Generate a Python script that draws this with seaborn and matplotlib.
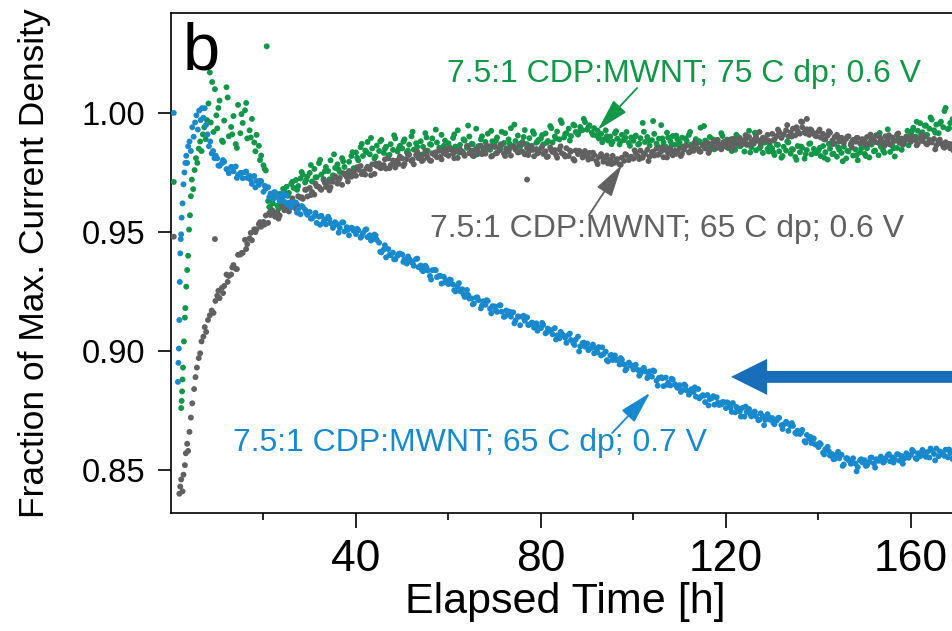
import numpy as np
import pandas as pd
import matplotlib
matplotlib.use("Agg")
import matplotlib.pyplot as plt
import seaborn as sns

# ---------------- data ----------------
series_names = ["7.5:1 CDP:MWNT; 75 C dp; 0.6 V",
                "7.5:1 CDP:MWNT; 65 C dp; 0.6 V",
                "7.5:1 CDP:MWNT; 65 C dp; 0.7 V"]

# early, irregularly sampled part of each run (hours, fraction) plus isolated outliers
green_early_t = [0.6, 2.2, 2.3, 2.4, 2.5, 2.6, 2.8, 3.0, 3.1, 3.3, 3.5, 3.7, 3.9, 4.1, 4.3, 4.5, 4.8, 5.1,
                 5.4, 5.7, 6.0, 6.3, 6.6, 6.9, 7.2, 7.5, 7.8, 8.1, 8.4, 8.6, 8.9, 9.2, 9.5, 9.8, 20.7]
green_early_y = [0.971, 0.876, 0.879, 0.883, 0.888, 0.893, 0.904, 0.914, 0.918, 0.927, 0.934, 0.940, 0.951,
                 0.957, 0.965, 0.972, 0.968, 0.976, 0.981, 0.979, 0.985, 0.988, 0.984, 0.991, 0.994, 0.989,
                 0.997, 1.004, 1.017, 0.996, 1.013, 0.992, 1.010, 0.999, 1.028]
gray_early_t = [0.6, 1.8, 2.0, 2.2, 2.5, 2.7, 3.0, 3.2, 3.5, 3.7, 4.0, 4.3, 4.6, 5.0, 5.3, 5.6, 6.0, 6.3,
                6.6, 7.0, 7.3, 7.6, 8.0, 8.4, 8.8, 9.2, 9.5, 9.6, 77.0, 136.5, 137.5]
gray_early_y = [0.948, 0.840, 0.843, 0.846, 0.841, 0.848, 0.852, 0.857, 0.861, 0.858, 0.866, 0.872, 0.878,
                0.884, 0.889, 0.893, 0.897, 0.899, 0.904, 0.906, 0.910, 0.908, 0.913, 0.915, 0.917, 0.916,
                0.947, 0.921, 0.972, 0.9962, 0.9975]
blue_early_t = [0.6, 1.5, 1.6, 1.7, 1.8, 1.9, 2.0, 2.1, 2.2, 2.3, 2.5, 2.7, 2.9, 3.1, 3.3, 3.5, 3.7, 4.0,
                4.3, 4.6, 4.9, 5.2, 5.5, 5.8, 6.1, 6.4, 6.7, 7.0, 7.3, 7.6, 7.9, 8.2, 8.5, 8.8, 9.1, 9.4, 9.7]
blue_early_y = [1.000, 0.887, 0.895, 0.901, 0.913, 0.929, 0.941, 0.947, 0.949, 0.956, 0.962, 0.970, 0.975,
                0.979, 0.982, 0.979, 0.986, 0.988, 0.984, 0.994, 0.990, 0.996, 0.999, 0.993, 1.001, 0.997,
                1.002, 0.998, 1.002, 0.995, 0.991, 0.986, 0.988, 0.983, 0.984, 0.981, 0.982]

# regular logging A: every 0.5 h starting at 10 h
logA_start_h = 10.0
logA_step_h = 0.5
# regular logging B: every 1 h starting at 10.25 h
logB_start_h = 10.25
logB_step_h = 1.0

green_y = [
    0.9935, 1.0052, 0.9884, 0.9968, 1.0108, 0.9902, 0.9941, 0.9987, 0.9869, 1.0034, 0.9915, 0.9958, 1.0011, 0.9893, 0.9927, 0.9975, 0.9876, 0.9908, 0.9862, 0.9821,
    0.9780, 0.9758, 0.9630, 0.9600, 0.9620, 0.9655, 0.9610, 0.9660, 0.9640, 0.9672, 0.9690, 0.9664, 0.9702, 0.9685, 0.9718, 0.9693, 0.9725, 0.9741, 0.9708, 0.9733,
    0.9748, 0.9712, 0.9765, 0.9730, 0.9789, 0.9741, 0.9722, 0.9773, 0.9756, 0.9801, 0.9738, 0.9769, 0.9784, 0.9752, 0.9810, 0.9773, 0.9746, 0.9795, 0.9819, 0.9768,
    0.9834, 0.9801, 0.9856, 0.9819, 0.9842, 0.9878, 0.9826, 0.9851, 0.9809, 0.9863, 0.9840, 0.9887, 0.9832, 0.9858, 0.9821, 0.9869, 0.9845, 0.9893, 0.9838, 0.9862,
    0.9851, 0.9889, 0.9835, 0.9867, 0.9902, 0.9846, 0.9873, 0.9827, 0.9881, 0.9858, 0.9915, 0.9842, 0.9869, 0.9893, 0.9831, 0.9876, 0.9854, 0.9908, 0.9862, 0.9839,
    0.9872, 0.9848, 0.9895, 0.9859, 0.9927, 0.9866, 0.9838, 0.9884, 0.9853, 0.9901, 0.9870, 0.9842, 0.9934, 0.9861, 0.9889, 0.9851, 0.9878, 0.9913, 0.9845, 0.9881,
    0.9866, 0.9897, 0.9852, 0.9921, 0.9874, 0.9843, 0.9889, 0.9936, 0.9861, 0.9882, 0.9905, 0.9857, 0.9878, 0.9928, 0.9869, 0.9894, 0.9848, 0.9912, 0.9875, 0.9887,
    0.9893, 0.9868, 0.9914, 0.9882, 0.9945, 0.9876, 0.9901, 0.9922, 0.9889, 0.9958, 0.9897, 0.9915, 0.9934, 0.9903, 0.9951, 0.9920, 0.9909, 0.9941, 0.9928, 0.9962,
    0.9930, 0.9948, 0.9917, 0.9936, 0.9905, 0.9893, 0.9912, 0.9889, 0.9927, 0.9884, 0.9901, 0.9879, 0.9915, 0.9892, 0.9868, 0.9908, 0.9886, 0.9920, 0.9874, 0.9897,
    0.9883, 0.9905, 0.9867, 0.9894, 0.9958, 0.9878, 0.9899, 0.9863, 0.9886, 0.9912, 0.9871, 0.9892, 0.9949, 0.9876, 0.9858, 0.9897, 0.9881, 0.9903, 0.9866, 0.9889,
    0.9874, 0.9896, 0.9859, 0.9883, 0.9908, 0.9867, 0.9851, 0.9890, 0.9875, 0.9938, 0.9862, 0.9884, 0.9853, 0.9899, 0.9870, 0.9847, 0.9886, 0.9863, 0.9915, 0.9877,
    0.9868, 0.9852, 0.9889, 0.9873, 0.9845, 0.9901, 0.9860, 0.9879, 0.9838, 0.9866, 0.9925, 0.9855, 0.9871, 0.9843, 0.9884, 0.9859, 0.9832, 0.9876, 0.9849, 0.9863,
    0.9851, 0.9823, 0.9867, 0.9839, 0.9812, 0.9858, 0.9842, 0.9876, 0.9829, 0.9846, 0.9815, 0.9861, 0.9835, 0.9853, 0.9808, 0.9844, 0.9870, 0.9826, 0.9849, 0.9831,
    0.9842, 0.9819, 0.9861, 0.9835, 0.9804, 0.9850, 0.9827, 0.9873, 0.9816, 0.9845, 0.9832, 0.9858, 0.9809, 0.9838, 0.9866, 0.9821, 0.9847, 0.9801, 0.9834, 0.9855,
    0.9828, 0.9851, 0.9813, 0.9867, 0.9839, 0.9905, 0.9822, 0.9858, 0.9842, 0.9874, 0.9931, 0.9836, 0.9862, 0.9817, 0.9853, 0.9889, 0.9845, 0.9871, 0.9898, 0.9864,
    0.9912, 0.9938, 0.9901, 0.9925, 0.9957, 0.9919, 0.9946, 0.9908, 0.9934, 0.9972, 0.9927, 0.9951, 0.9915, 0.9963, 0.9940, 1.0021, 0.9932, 0.9958, 0.9974, 0.9945,
]
green_y2 = [
    1.0021, 0.9878, 1.0065, 0.9910, 0.9853, 0.9995, 1.0042, 0.9897, 0.9839, 0.9802,
    0.9765, 0.9605, 0.9642, 0.9598, 0.9681, 0.9652, 0.9711, 0.9677, 0.9752, 0.9719,
    0.9781, 0.9729, 0.9803, 0.9755, 0.9721, 0.9826, 0.9762, 0.9797, 0.9743, 0.9835,
    0.9812, 0.9870, 0.9836, 0.9895, 0.9817, 0.9881, 0.9849, 0.9824, 0.9906, 0.9851,
    0.9879, 0.9842, 0.9921, 0.9858, 0.9825, 0.9897, 0.9866, 0.9930, 0.9848, 0.9884,
    0.9856, 0.9910, 0.9833, 0.9889, 0.9947, 0.9869, 0.9826, 0.9902, 0.9858, 0.9925,
    0.9884, 0.9849, 0.9915, 0.9870, 0.9951, 0.9862, 0.9899, 0.9838, 0.9923, 0.9880,
    0.9907, 0.9875, 0.9936, 0.9893, 0.9969, 0.9912, 0.9884, 0.9947, 0.9921, 0.9975,
    0.9941, 0.9908, 0.9926, 0.9877, 0.9902, 0.9869, 0.9923, 0.9881, 0.9896, 0.9862,
    0.9899, 0.9871, 0.9921, 0.9884, 0.9966, 0.9859, 0.9893, 0.9917, 0.9868, 0.9905,
    0.9859, 0.9893, 0.9920, 0.9866, 0.9881, 0.9945, 0.9852, 0.9889, 0.9871, 0.9903,
    0.9881, 0.9840, 0.9908, 0.9862, 0.9889, 0.9834, 0.9917, 0.9851, 0.9876, 0.9838,
    0.9835, 0.9866, 0.9819, 0.9880, 0.9848, 0.9803, 0.9859, 0.9827, 0.9872, 0.9840,
    0.9853, 0.9812, 0.9870, 0.9829, 0.9856, 0.9797, 0.9841, 0.9879, 0.9823, 0.9851,
    0.9819, 0.9878, 0.9842, 0.9916, 0.9833, 0.9869, 0.9851, 0.9894, 0.9881, 0.9925,
    0.9925, 0.9963, 0.9904, 0.9948, 0.9981, 0.9917, 0.9956, 1.0008, 0.9936, 0.9969,
]

gray_y = [
    0.9232, 0.9222, 0.9265, 0.9273, 0.9321, 0.9315, 0.9321, 0.9361, 0.9345, 0.9404, 0.9405, 0.9412, 0.9467, 0.9449, 0.9473, 0.9465, 0.9511, 0.9511, 0.9533, 0.9522,
    0.9542, 0.9569, 0.9538, 0.9571, 0.9589, 0.9564, 0.9582, 0.9569, 0.9614, 0.9591, 0.9609, 0.9586, 0.9623, 0.9616, 0.9598, 0.9650, 0.9644, 0.9639, 0.9677, 0.9649,
    0.9685, 0.9668, 0.9657, 0.9692, 0.9689, 0.9677, 0.9719, 0.9689, 0.9709, 0.9688, 0.9711, 0.9734, 0.9703, 0.9727, 0.9698, 0.9742, 0.9731, 0.9756, 0.9732, 0.9752,
    0.9736, 0.9761, 0.9777, 0.9753, 0.9741, 0.9774, 0.9763, 0.9784, 0.9744, 0.9777, 0.9788, 0.9769, 0.9781, 0.9766, 0.9809, 0.9781, 0.9800, 0.9771, 0.9801, 0.9817,
    0.9809, 0.9786, 0.9806, 0.9825, 0.9798, 0.9784, 0.9823, 0.9810, 0.9819, 0.9802, 0.9841, 0.9812, 0.9800, 0.9830, 0.9823, 0.9814, 0.9841, 0.9805, 0.9832, 0.9826,
    0.9820, 0.9849, 0.9829, 0.9839, 0.9811, 0.9847, 0.9836, 0.9820, 0.9861, 0.9831, 0.9842, 0.9819, 0.9850, 0.9832, 0.9862, 0.9839, 0.9829, 0.9849, 0.9860, 0.9820,
    0.9857, 0.9832, 0.9843, 0.9866, 0.9829, 0.9851, 0.9838, 0.9821, 0.9859, 0.9846, 0.9834, 0.9870, 0.9837, 0.9826, 0.9853, 0.9841, 0.9862, 0.9818, 0.9848, 0.9835,
    0.9851, 0.9828, 0.9839, 0.9817, 0.9855, 0.9836, 0.9844, 0.9812, 0.9847, 0.9831, 0.9825, 0.9852, 0.9819, 0.9838, 0.9806, 0.9842, 0.9827, 0.9835, 0.9813, 0.9840,
    0.9818, 0.9832, 0.9809, 0.9824, 0.9798, 0.9815, 0.9827, 0.9795, 0.9810, 0.9788, 0.9803, 0.9820, 0.9791, 0.9806, 0.9784, 0.9812, 0.9799, 0.9823, 0.9802, 0.9816,
    0.9808, 0.9831, 0.9819, 0.9842, 0.9812, 0.9827, 0.9845, 0.9816, 0.9833, 0.9821, 0.9850, 0.9826, 0.9838, 0.9814, 0.9844, 0.9830, 0.9853, 0.9822, 0.9841, 0.9835,
    0.9852, 0.9828, 0.9846, 0.9863, 0.9834, 0.9855, 0.9841, 0.9870, 0.9849, 0.9837, 0.9866, 0.9851, 0.9875, 0.9843, 0.9862, 0.9880, 0.9853, 0.9868, 0.9847, 0.9877,
    0.9858, 0.9884, 0.9869, 0.9891, 0.9862, 0.9877, 0.9895, 0.9871, 0.9886, 0.9868, 0.9899, 0.9880, 0.9874, 0.9903, 0.9885, 0.9871, 0.9896, 0.9889, 0.9908, 0.9879,
    0.9912, 0.9889, 0.9903, 0.9921, 0.9895, 0.9910, 0.9927, 0.9901, 0.9918, 0.9934, 0.9906, 0.9925, 0.9913, 0.9940, 0.9919, 0.9931, 0.9908, 0.9927, 0.9915, 0.9902,
    0.9921, 0.9897, 0.9912, 0.9889, 0.9905, 0.9917, 0.9884, 0.9899, 0.9908, 0.9880, 0.9896, 0.9874, 0.9891, 0.9902, 0.9869, 0.9887, 0.9879, 0.9895, 0.9872, 0.9890,
    0.9881, 0.9899, 0.9870, 0.9893, 0.9885, 0.9906, 0.9874, 0.9890, 0.9878, 0.9902, 0.9886, 0.9868, 0.9897, 0.9883, 0.9909, 0.9875, 0.9892, 0.9880, 0.9901, 0.9888,
    0.9879, 0.9898, 0.9886, 0.9871, 0.9894, 0.9882, 0.9900, 0.9868, 0.9887, 0.9876, 0.9891, 0.9864, 0.9880, 0.9872, 0.9858, 0.9877, 0.9862, 0.9851, 0.9869, 0.9855,
]
gray_y2 = [
    0.9253, 0.9243, 0.9290, 0.9351, 0.9344, 0.9411, 0.9428, 0.9496, 0.9499, 0.9541,
    0.9531, 0.9580, 0.9576, 0.9556, 0.9604, 0.9594, 0.9641, 0.9615, 0.9646, 0.9678,
    0.9655, 0.9703, 0.9682, 0.9707, 0.9675, 0.9727, 0.9718, 0.9747, 0.9712, 0.9752,
    0.9772, 0.9743, 0.9766, 0.9738, 0.9787, 0.9769, 0.9805, 0.9768, 0.9793, 0.9786,
    0.9777, 0.9823, 0.9804, 0.9837, 0.9798, 0.9824, 0.9799, 0.9835, 0.9816, 0.9850,
    0.9847, 0.9810, 0.9842, 0.9829, 0.9860, 0.9820, 0.9841, 0.9827, 0.9863, 0.9817,
    0.9830, 0.9868, 0.9819, 0.9851, 0.9858, 0.9835, 0.9870, 0.9823, 0.9845, 0.9830,
    0.9859, 0.9815, 0.9844, 0.9825, 0.9860, 0.9817, 0.9842, 0.9800, 0.9841, 0.9822,
    0.9804, 0.9833, 0.9785, 0.9815, 0.9821, 0.9785, 0.9804, 0.9782, 0.9827, 0.9809,
    0.9843, 0.9806, 0.9830, 0.9798, 0.9838, 0.9824, 0.9857, 0.9813, 0.9837, 0.9828,
    0.9819, 0.9862, 0.9838, 0.9876, 0.9839, 0.9861, 0.9832, 0.9875, 0.9886, 0.9862,
    0.9888, 0.9849, 0.9883, 0.9869, 0.9907, 0.9867, 0.9891, 0.9920, 0.9887, 0.9883,
    0.9884, 0.9930, 0.9907, 0.9949, 0.9901, 0.9940, 0.9964, 0.9914, 0.9931, 0.9906,
    0.9930, 0.9889, 0.9923, 0.9869, 0.9897, 0.9880, 0.9900, 0.9855, 0.9895, 0.9874,
    0.9869, 0.9909, 0.9878, 0.9898, 0.9861, 0.9906, 0.9884, 0.9914, 0.9866, 0.9893,
    0.9902, 0.9864, 0.9909, 0.9872, 0.9881, 0.9847, 0.9888, 0.9854, 0.9870, 0.9841,
]

blue_y = [
    0.9809, 0.9778, 0.9789, 0.9795, 0.9764, 0.9747, 0.9773, 0.9755, 0.9775, 0.9740, 0.9748, 0.9726, 0.9751, 0.9727, 0.9736, 0.9702, 0.9735, 0.9714, 0.9698, 0.9713,
    0.9669, 0.9682, 0.9688, 0.9661, 0.9640, 0.9667, 0.9651, 0.9630, 0.9649, 0.9627, 0.9653, 0.9623, 0.9603, 0.9620, 0.9624, 0.9596, 0.9574, 0.9605, 0.9593, 0.9572,
    0.9584, 0.9557, 0.9566, 0.9538, 0.9564, 0.9568, 0.9544, 0.9532, 0.9564, 0.9537, 0.9517, 0.9541, 0.9532, 0.9517, 0.9540, 0.9502, 0.9520, 0.9486, 0.9518, 0.9505,
    0.9491, 0.9507, 0.9476, 0.9495, 0.9509, 0.9478, 0.9486, 0.9469, 0.9489, 0.9467, 0.9455, 0.9414, 0.9426, 0.9393, 0.9428, 0.9403, 0.9413, 0.9385, 0.9400, 0.9409,
    0.9405, 0.9385, 0.9367, 0.9387, 0.9377, 0.9358, 0.9386, 0.9352, 0.9359, 0.9335, 0.9358, 0.9338, 0.9315, 0.9339, 0.9341, 0.9310, 0.9316, 0.9283, 0.9311, 0.9296,
    0.9281, 0.9298, 0.9279, 0.9250, 0.9270, 0.9251, 0.9259, 0.9227, 0.9256, 0.9220, 0.9221, 0.9199, 0.9224, 0.9213, 0.9179, 0.9209, 0.9194, 0.9210, 0.9177, 0.9188,
    0.9187, 0.9164, 0.9191, 0.9165, 0.9143, 0.9170, 0.9158, 0.9144, 0.9162, 0.9128, 0.9145, 0.9108, 0.9143, 0.9127, 0.9141, 0.9111, 0.9119, 0.9098, 0.9116, 0.9099,
    0.9096, 0.9109, 0.9074, 0.9094, 0.9085, 0.9070, 0.9096, 0.9065, 0.9053, 0.9073, 0.9063, 0.9034, 0.9068, 0.9046, 0.9033, 0.9047, 0.9060, 0.9019, 0.9033, 0.9018,
    0.9031, 0.9010, 0.9013, 0.8990, 0.9010, 0.9016, 0.8981, 0.8986, 0.8997, 0.8956, 0.8981, 0.8962, 0.8981, 0.8963, 0.8943, 0.8963, 0.8943, 0.8925, 0.8951, 0.8938,
    0.8922, 0.8942, 0.8920, 0.8905, 0.8923, 0.8914, 0.8886, 0.8914, 0.8892, 0.8915, 0.8875, 0.8887, 0.8889, 0.8852, 0.8888, 0.8866, 0.8855, 0.8880, 0.8860, 0.8845,
    0.8856, 0.8835, 0.8859, 0.8834, 0.8816, 0.8839, 0.8828, 0.8808, 0.8840, 0.8807, 0.8814, 0.8785, 0.8815, 0.8797, 0.8802, 0.8774, 0.8805, 0.8773, 0.8775, 0.8785,
    0.8760, 0.8781, 0.8761, 0.8781, 0.8742, 0.8760, 0.8745, 0.8760, 0.8724, 0.8744, 0.8756, 0.8725, 0.8742, 0.8726, 0.8709, 0.8738, 0.8725, 0.8710, 0.8734, 0.8711,
    0.8718, 0.8692, 0.8708, 0.8719, 0.8688, 0.8691, 0.8702, 0.8664, 0.8685, 0.8685, 0.8656, 0.8665, 0.8651, 0.8668, 0.8621, 0.8647, 0.8632, 0.8613, 0.8632, 0.8606,
    0.8596, 0.8608, 0.8572, 0.8587, 0.8597, 0.8560, 0.8566, 0.8546, 0.8565, 0.8549, 0.8564, 0.8523, 0.8549, 0.8541, 0.8526, 0.8549, 0.8527, 0.8512, 0.8540, 0.8532,
    0.8541, 0.8519, 0.8533, 0.8552, 0.8527, 0.8545, 0.8538, 0.8556, 0.8531, 0.8549, 0.8562, 0.8536, 0.8553, 0.8544, 0.8566, 0.8539, 0.8558, 0.8547, 0.8570, 0.8551,
    0.8563, 0.8578, 0.8549, 0.8570, 0.8557, 0.8584, 0.8561, 0.8575, 0.8552, 0.8581, 0.8567, 0.8590, 0.8558, 0.8573, 0.8564, 0.8585, 0.8553, 0.8571, 0.8546, 0.8562,
]
blue_y2 = [
    0.9779, 0.9802, 0.9762, 0.9772, 0.9727, 0.9748, 0.9754, 0.9719, 0.9687, 0.9715,
    0.9694, 0.9646, 0.9666, 0.9645, 0.9662, 0.9614, 0.9623, 0.9581, 0.9609, 0.9580,
    0.9556, 0.9580, 0.9530, 0.9553, 0.9553, 0.9526, 0.9497, 0.9540, 0.9509, 0.9515,
    0.9513, 0.9483, 0.9511, 0.9464, 0.9485, 0.9417, 0.9444, 0.9404, 0.9385, 0.9408,
    0.9374, 0.9397, 0.9369, 0.9388, 0.9341, 0.9350, 0.9300, 0.9339, 0.9315, 0.9288,
    0.9300, 0.9255, 0.9285, 0.9238, 0.9235, 0.9196, 0.9225, 0.9191, 0.9213, 0.9158,
    0.9170, 0.9192, 0.9146, 0.9165, 0.9116, 0.9144, 0.9148, 0.9109, 0.9117, 0.9085,
    0.9118, 0.9079, 0.9087, 0.9048, 0.9080, 0.9055, 0.9073, 0.9025, 0.8998, 0.9035,
    0.9003, 0.9027, 0.8994, 0.9015, 0.8961, 0.8983, 0.8962, 0.8970, 0.8918, 0.8944,
    0.8939, 0.8896, 0.8929, 0.8896, 0.8918, 0.8854, 0.8885, 0.8858, 0.8883, 0.8854,
    0.8828, 0.8853, 0.8825, 0.8847, 0.8801, 0.8812, 0.8771, 0.8810, 0.8783, 0.8785,
    0.8784, 0.8744, 0.8765, 0.8724, 0.8766, 0.8735, 0.8745, 0.8711, 0.8688, 0.8721,
    0.8698, 0.8718, 0.8672, 0.8696, 0.8697, 0.8652, 0.8657, 0.8615, 0.8639, 0.8608,
    0.8613, 0.8565, 0.8579, 0.8545, 0.8576, 0.8517, 0.8549, 0.8531, 0.8494, 0.8545,
    0.8517, 0.8551, 0.8510, 0.8546, 0.8535, 0.8566, 0.8531, 0.8565, 0.8526, 0.8563,
    0.8584, 0.8546, 0.8573, 0.8555, 0.8590, 0.8540, 0.8578, 0.8559, 0.8586, 0.8551,
]

x_major = [40, 80, 120, 160]
x_minor = [20, 60, 100, 140]
y_major = [0.85, 0.90, 0.95, 1.00]

# ---------------- build table ----------------
def series_frame(name, t_early, y_early, y_a, y_b):
    t_a = logA_start_h + logA_step_h * np.arange(len(y_a))
    t_b = logB_start_h + logB_step_h * np.arange(len(y_b))
    t = np.concatenate([np.asarray(t_early, float), t_a, t_b])
    y = np.concatenate([np.asarray(y_early, float), np.asarray(y_a, float), np.asarray(y_b, float)])
    return pd.DataFrame({"time": t, "frac": y, "series": name})

df = pd.concat([
    series_frame(series_names[0], green_early_t, green_early_y, green_y, green_y2),
    series_frame(series_names[1], gray_early_t, gray_early_y, gray_y, gray_y2),
    series_frame(series_names[2], blue_early_t, blue_early_y, blue_y, blue_y2),
], ignore_index=True)

c_green = "#129647"
c_gray = "#616161"
c_blue = "#1889cc"
c_arrow = "#176fbc"
palette = {series_names[0]: c_green, series_names[1]: c_gray, series_names[2]: c_blue}

# ---------------- figure ----------------
sns.set_theme(style="ticks")
plt.rcParams["font.family"] = ["Liberation Sans", "DejaVu Sans"]

fig = plt.figure(figsize=(9.53, 6.31), dpi=100)
ax = fig.add_axes([171 / 953, 1 - 513 / 631, 782 / 953, 500 / 631])

sns.scatterplot(data=df, x="time", y="frac", hue="series", palette=palette,
                s=18, linewidth=0, alpha=1.0, legend=False, ax=ax, zorder=3)

ax.set_xlim(0, 169.1)
ax.set_ylim(0.8319, 1.0420)

ax.set_xticks(x_major)
ax.set_xticks(x_minor, minor=True)
ax.set_xticklabels([str(v) for v in x_major])
ax.set_yticks(y_major)
ax.set_yticklabels([f"{v:.2f}" for v in y_major])

for side in ["left", "top", "bottom"]:
    ax.spines[side].set_visible(True)
    ax.spines[side].set_color("black")
    ax.spines[side].set_linewidth(1.2)
ax.spines["right"].set_visible(False)

ax.tick_params(axis="x", which="major", direction="out", length=10.5, width=1.2,
               labelsize=32, pad=8, colors="black")
ax.tick_params(axis="x", which="minor", direction="out", length=5, width=1.2, colors="black")
ax.tick_params(axis="y", which="major", direction="out", length=9.5, width=1.2,
               labelsize=23.5, pad=9, colors="black")

ax.set_xlabel("Elapsed Time [h]", fontsize=31, va="center", color="black")
ax.xaxis.set_label_coords(0.504, -0.178)
ax.set_ylabel("Fraction of Max. Current Density", fontsize=25.5, va="center", color="black")
ax.yaxis.set_label_coords(-0.174, 0.5)

# panel letter
ax.text(0.0147, 0.888, "b", transform=ax.transAxes, fontsize=48, ha="left", va="baseline",
        color="black")

# series labels
ax.text(111.0, 1.0130, series_names[0], fontsize=23, color=c_green, ha="center", va="baseline")
ax.text(107.2, 0.9480, series_names[1], fontsize=23, color=c_gray, ha="center", va="baseline")
ax.text(64.6, 0.8580, series_names[2], fontsize=23, color=c_blue, ha="center", va="baseline")

thin = "-|>,head_length=1.0,head_width=0.27"
ax.annotate("", xy=(92.3, 0.9929), xytext=(100.8, 1.0105),
            arrowprops=dict(arrowstyle=thin, color=c_green, lw=1.3, mutation_scale=20,
                            shrinkA=0, shrinkB=0), zorder=5)
ax.annotate("", xy=(97.5, 0.9782), xytext=(90.4, 0.9571),
            arrowprops=dict(arrowstyle=thin, color=c_gray, lw=1.3, mutation_scale=20,
                            shrinkA=0, shrinkB=0), zorder=5)
ax.annotate("", xy=(103.6, 0.8824), xytext=(95.4, 0.8655),
            arrowprops=dict(arrowstyle=thin, color=c_blue, lw=1.3, mutation_scale=20,
                            shrinkA=0, shrinkB=0), zorder=5)

# big blue arrow entering from the right edge
ax.annotate("", xy=(121.1, 0.8891), xytext=(172.0, 0.8891),
            arrowprops=dict(arrowstyle="simple,head_length=1.0,head_width=1.0,tail_width=0.33",
                            color=c_arrow, lw=0, mutation_scale=26, shrinkA=0, shrinkB=0),
            annotation_clip=False, zorder=5)

fig.savefig("out.png", dpi=100)
